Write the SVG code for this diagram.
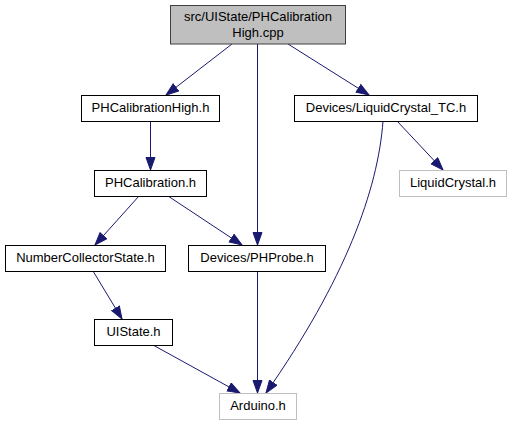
<svg xmlns="http://www.w3.org/2000/svg" width="512" height="425" viewBox="0 0 512 425">
<style>
.n rect{fill:#fff;stroke:#000;stroke-width:1}
.n.ext rect{stroke:#bfbfbf}
.n.top rect{fill:#bfbfbf;stroke:#404040}
text{font-family:"Liberation Sans",Arial,sans-serif;font-size:13px;text-anchor:middle;fill:#000}
.e{stroke:#191970;stroke-width:1;fill:none;marker-end:url(#a)}
</style>
<defs>
<marker id="a" markerUnits="userSpaceOnUse" markerWidth="15" markerHeight="11" refX="13" refY="5" orient="auto" viewBox="0 0 15 11">
<path d="M0.5,0.5 L13,5 L0.5,9.5 z" fill="#191970" stroke="#191970" stroke-width="1"/>
</marker>
</defs>
<rect width="512" height="425" fill="#fff"/>
<g id="edges">
<path class="e" d="M232,44 L166,95"/>
<path class="e" d="M257.5,44 L257.5,245"/>
<path class="e" d="M288,44 L369,95"/>
<path class="e" d="M150.5,121 L150.5,170"/>
<path class="e" d="M139,196 L95,245"/>
<path class="e" d="M168,196 L242,245"/>
<path class="e" d="M93,271 L122,319"/>
<path class="e" d="M153,345 L240,393"/>
<path class="e" d="M257.5,271 L257.5,393"/>
<path class="e" d="M383,121 C378,190 345,280 266,393"/>
<path class="e" d="M397,121 L443,170"/>
</g>
<g id="node_top" class="n top"><rect x="170.5" y="5.5" width="175" height="38.5"/><text x="258" y="21">src/UIState/PHCalibration</text><text x="258" y="37">High.cpp</text></g>
<g id="node_PHCalibrationHigh" class="n"><rect x="81.5" y="95.5" width="138" height="26"/><text x="150.5" y="112">PHCalibrationHigh.h</text></g>
<g id="node_LiquidCrystal_TC" class="n"><rect x="294.5" y="95.5" width="183" height="26"/><text x="386" y="112">Devices/LiquidCrystal_TC.h</text></g>
<g id="node_PHCalibration" class="n"><rect x="94.5" y="170.5" width="112" height="26"/><text x="150.5" y="187">PHCalibration.h</text></g>
<g id="node_LiquidCrystal" class="n ext"><rect x="399.5" y="170.5" width="107" height="26"/><text x="453" y="187">LiquidCrystal.h</text></g>
<g id="node_NumberCollectorState" class="n"><rect x="5.5" y="245.5" width="160" height="26"/><text x="85.5" y="262">NumberCollectorState.h</text></g>
<g id="node_PHProbe" class="n"><rect x="188.5" y="245.5" width="137" height="26"/><text x="257" y="262">Devices/PHProbe.h</text></g>
<g id="node_UIState" class="n"><rect x="94.5" y="319.5" width="78" height="26"/><text x="133.5" y="336">UIState.h</text></g>
<g id="node_Arduino" class="n ext"><rect x="219.5" y="393.5" width="77" height="26"/><text x="258" y="410">Arduino.h</text></g>
</svg>
